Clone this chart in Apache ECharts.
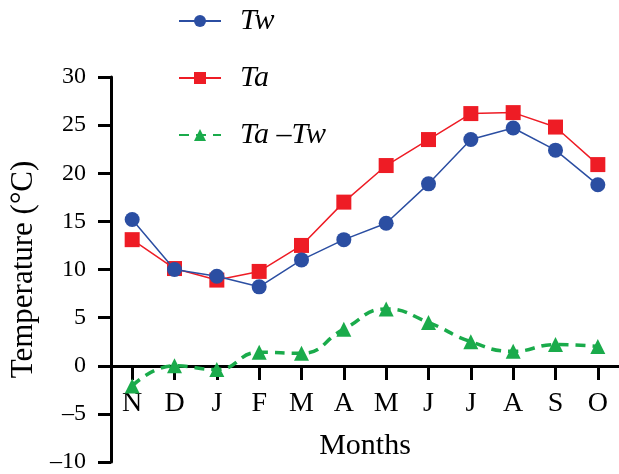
<!DOCTYPE html>
<html>
<head>
<meta charset="utf-8">
<script src="https://cdn.jsdelivr.net/npm/echarts@6/dist/echarts.min.js"></script>
<style>html,body{margin:0;padding:0;background:#fff;}#c{width:619px;height:474px;}</style>
</head>
<body>
<div id="c"></div>
<script>
const months = ['N','D','J','F','M','A','M','J','J','A','S','O'];
const tw = [15.2, 10.0, 9.3, 8.2, 11.0, 13.1, 14.8, 18.9, 23.5, 24.7, 22.4, 18.8];
const ta = [13.1, 10.1, 8.9, 9.8, 12.5, 17.0, 20.8, 23.5, 26.2, 26.3, 24.8, 20.9];
const diff = [-2.1, 0.0, -0.4, 1.4, 1.3, 3.8, 5.9, 4.5, 2.5, 1.5, 2.2, 2.0];
const yTicks = [-10, -5, 0, 5, 10, 15, 20, 25, 30];

const font = "'Liberation Serif', 'Times New Roman', serif";
const chart = echarts.init(document.getElementById('c'));
chart.setOption({
  animation: false,
  backgroundColor: '#fff',
  legend: {
    orient: 'vertical', left: 173, top: 1,
    itemWidth: 42, itemHeight: 15, itemGap: 27,
    textStyle: {fontFamily: font, fontStyle: 'italic', fontSize: 30, color: '#000', padding: [0,0,0,14], lineHeight: 29},
    data: ['Tw','Ta','Ta –Tw']
  },
  grid: {left: 111, right: 0, top: 77, bottom: 12, containLabel: false, outerBoundsMode: 'none'},
  xAxis: {
    type: 'category', data: months, boundaryGap: true, position: 'bottom', offset: -96,
    name: 'Months', nameLocation: 'middle', nameGap: 65,
    nameTextStyle: {fontFamily: font, fontSize: 30, color: '#000'},
    axisLine: {onZero: false, lineStyle: {color: '#000', width: 3}},
    axisTick: {show: true, alignWithLabel: true, length: 14, lineStyle: {color: '#000', width: 3}},
    axisLabel: {fontFamily: font, fontSize: 28, color: '#000', margin: 24}
  },
  yAxis: {
    type: 'value', min: -10, max: 30, interval: 5,
    name: 'Temperature (°C)', nameLocation: 'middle', nameGap: 69,
    nameTextStyle: {fontFamily: font, fontSize: 31, color: '#000'},
    splitLine: {show: false},
    axisLine: {show: true, lineStyle: {color: '#000', width: 3}},
    axisTick: {show: true, length: 13, lineStyle: {color: '#000', width: 3}},
    axisLabel: {fontFamily: font, fontSize: 24, color: '#000', margin: 25,
      formatter: v => (yTicks.indexOf(v) >= 0 ? (v < 0 ? '\u2013' + (-v) : String(v)) : '')}
  },
  series: [
    {name: 'Tw', type: 'line', data: tw, symbol: 'circle', symbolSize: 15,
     itemStyle: {color: '#2b4ea2'}, lineStyle: {color: '#2b4ea2', width: 1.5}, z: 3},
    {name: 'Ta', type: 'line', data: ta, symbol: 'rect', symbolSize: 15,
     itemStyle: {color: '#ee1c25'}, lineStyle: {color: '#ee1c25', width: 1.5}, z: 2},
    {name: 'Ta –Tw', type: 'line', data: diff, symbol: 'triangle', symbolSize: 15, smooth: true,
     itemStyle: {color: '#1aab4b'}, lineStyle: {color: '#1aab4b', width: 3.5, type: [10, 7]}, z: 4}
  ]
});
</script>
</body>
</html>
